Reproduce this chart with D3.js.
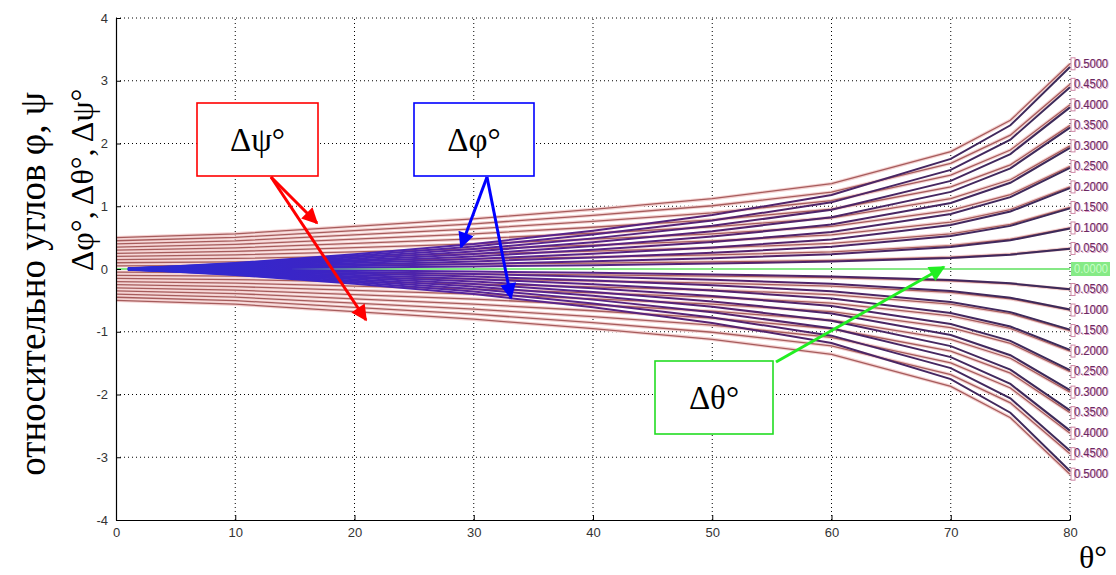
<!DOCTYPE html>
<html><head><meta charset="utf-8">
<script src="https://cdn.jsdelivr.net/npm/d3@7"></script>
<style>
html,body{margin:0;padding:0;background:#fff;}
svg{display:block;}
</style></head>
<body>
<svg id="chart" width="1116" height="575"></svg>
<script>
// ---- data ----
const xTicks = [0,10,20,30,40,50,60,70,80];
const yTicks = [-4,-3,-2,-1,0,1,2,3,4];
const kLabels = ["0.0500","0.1000","0.1500","0.2000","0.2500","0.3000","0.3500","0.4000","0.4500","0.5000"];
const zeroLabel = "0.0000";

// Δψ curves (upper half), theta in degrees
const thetaPsi = [0,10,20,30,40,50,60,70,75,80];
const psiUpper = [
  [0.05,0.056,0.068,0.08,0.095,0.112,0.136,0.187,0.237,0.327],
  [0.10,0.112,0.136,0.16,0.19,0.224,0.272,0.374,0.474,0.654],
  [0.15,0.168,0.204,0.24,0.285,0.336,0.408,0.561,0.711,0.981],
  [0.20,0.224,0.272,0.32,0.38,0.448,0.544,0.748,0.948,1.308],
  [0.25,0.28,0.34,0.40,0.475,0.56,0.68,0.935,1.185,1.635],
  [0.30,0.336,0.408,0.48,0.57,0.672,0.816,1.122,1.422,1.962],
  [0.35,0.392,0.476,0.56,0.665,0.784,0.952,1.309,1.659,2.289],
  [0.40,0.448,0.544,0.64,0.76,0.896,1.088,1.496,1.896,2.616],
  [0.45,0.504,0.612,0.72,0.855,1.008,1.224,1.683,2.133,2.943],
  [0.50,0.56,0.68,0.80,0.95,1.12,1.36,1.87,2.37,3.27]
];
// Δφ curves (upper half)
const thetaPhi = [1,5,10,20,30,40,50,60,70,75,80];
const phiUpper = [
  [0.001,0.005,0.01,0.024,0.04,0.061,0.086,0.118,0.176,0.229,0.322],
  [0.002,0.009,0.019,0.047,0.08,0.122,0.172,0.236,0.351,0.458,0.644],
  [0.003,0.014,0.029,0.071,0.12,0.183,0.258,0.354,0.527,0.687,0.966],
  [0.004,0.018,0.038,0.094,0.16,0.244,0.344,0.472,0.702,0.916,1.288],
  [0.005,0.023,0.048,0.118,0.20,0.305,0.43,0.59,0.878,1.145,1.61],
  [0.006,0.027,0.057,0.141,0.24,0.366,0.516,0.708,1.053,1.374,1.932],
  [0.007,0.032,0.067,0.165,0.28,0.427,0.602,0.826,1.229,1.603,2.254],
  [0.008,0.036,0.076,0.188,0.32,0.488,0.688,0.944,1.404,1.832,2.576],
  [0.009,0.041,0.086,0.212,0.36,0.549,0.774,1.062,1.58,2.061,2.898],
  [0.01,0.045,0.095,0.235,0.40,0.61,0.86,1.18,1.755,2.29,3.22]
];
// Δθ curve
const thetaTheta = [0,80];
const thetaVals = [0,0];

// ---- drawing ----
const svg = d3.select("#chart");
const x = d3.scaleLinear().domain([0,80]).range([116,1070]);
const y = d3.scaleLinear().domain([-4,4]).range([520,18]);

const defs = svg.append("defs");
const grad = defs.append("linearGradient").attr("id","phiGrad")
  .attr("gradientUnits","userSpaceOnUse")
  .attr("x1",x(0)).attr("x2",x(80)).attr("y1",0).attr("y2",0);
grad.append("stop").attr("offset","0%").attr("stop-color","#2a2ad8");
grad.append("stop").attr("offset","22%").attr("stop-color","#3c24c4");
grad.append("stop").attr("offset","38%").attr("stop-color","#5a2498");
grad.append("stop").attr("offset","65%").attr("stop-color","#55226e");
grad.append("stop").attr("offset","100%").attr("stop-color","#3a2a58");

function marker(id,color){
  defs.append("marker").attr("id",id)
    .attr("viewBox","0 0 10 10").attr("refX",9).attr("refY",5)
    .attr("markerUnits","userSpaceOnUse")
    .attr("markerWidth",20).attr("markerHeight",16)
    .attr("orient","auto")
    .append("path").attr("d","M0,0 L10,5 L0,10 Z").attr("fill",color);
}
marker("arrRed","#ff0000");
marker("arrBlue","#0000ff");
marker("arrGreen","#22ee22");

// grid
const grid = svg.append("g");
grid.selectAll(".gx").data(xTicks.filter(d=>d>0)).enter().append("line")
  .attr("x1",d=>x(d)).attr("x2",d=>x(d)).attr("y1",y(-4)).attr("y2",y(4))
  .attr("stroke","#000").attr("stroke-width",1).attr("stroke-dasharray","1,3");
grid.selectAll(".gy").data(yTicks.filter(d=>d>-4)).enter().append("line")
  .attr("x1",x(0)).attr("x2",x(80)).attr("y1",d=>y(d)).attr("y2",d=>y(d))
  .attr("stroke","#000").attr("stroke-width",1).attr("stroke-dasharray","1,3");

const signs = [1,-1];
const linePsi = d3.line().x((d,i)=>x(thetaPsi[i])).y(d=>y(d));
const linePhi = d3.line().x((d,i)=>x(thetaPhi[i])).y(d=>y(d));
const lineTh = d3.line().x((d,i)=>x(thetaTheta[i])).y(d=>y(d));

const psiSeries = [];
signs.forEach(s=>psiUpper.forEach(a=>psiSeries.push(a.map(v=>s*v))));
const phiSeries = [];
signs.forEach(s=>phiUpper.forEach(a=>phiSeries.push(a.map(v=>s*v))));

const dataG = svg.append("g");
// pink halo of Δψ
dataG.selectAll(".psiHalo").data(psiSeries).enter().append("path")
  .attr("d",linePsi).attr("fill","none").attr("stroke","#f4d2d2").attr("stroke-width",3.5);
dataG.selectAll(".psi").data(psiSeries).enter().append("path")
  .attr("d",linePsi).attr("fill","none").attr("stroke","#a65c5c").attr("stroke-width",1.3);
// Δθ
dataG.append("path").datum(thetaVals).attr("d",lineTh)
  .attr("fill","none").attr("stroke","#86e886").attr("stroke-width",2.2);
// Δφ
dataG.selectAll(".phi").data(phiSeries).enter().append("path")
  .attr("d",linePhi).attr("fill","none").attr("stroke","url(#phiGrad)").attr("stroke-width",2);

// axes
const fmt = d=>String(d);
const ax = svg.append("g");
const yAxis = ax.append("g").attr("transform",`translate(${x(0)},0)`)
  .call(d3.axisLeft(y).tickValues(yTicks).tickFormat(fmt).tickSizeInner(-5).tickSizeOuter(0).tickPadding(8));
const xAxis = ax.append("g").attr("transform",`translate(0,${y(-4)})`)
  .call(d3.axisBottom(x).tickValues(xTicks).tickFormat(fmt).tickSizeInner(-5).tickSizeOuter(0).tickPadding(8));
[yAxis,xAxis].forEach(g=>{
  g.selectAll("text").attr("font-size",13).attr("fill","#333").attr("font-family","Liberation Sans, Arial, sans-serif");
  g.select(".domain").attr("stroke","#000").attr("stroke-width",1.2);
  g.selectAll(".tick line").attr("stroke","#000");
});

// right-end labels
const lab = svg.append("g").attr("font-family","Liberation Sans Narrow, Arial Narrow, Liberation Sans, sans-serif")
  .attr("font-size",12);
signs.forEach(s=>{
  psiUpper.forEach((a,i)=>{
    const yy = y(s*a[a.length-1]);
    lab.append("rect").attr("x",x(80)+1).attr("y",yy-6).attr("width",4).attr("height",12)
      .attr("fill","none").attr("stroke","#d08aa8").attr("stroke-width",1);
    lab.append("text").attr("x",x(80)+5).attr("y",yy).attr("dy","0.35em")
      .attr("fill","#e0a0c8").attr("textLength",34).attr("lengthAdjust","spacingAndGlyphs").text(kLabels[i]);
    lab.append("text").attr("x",x(80)+4).attr("y",yy-0.5).attr("dy","0.35em")
      .attr("fill","#6a2860").attr("textLength",34).attr("lengthAdjust","spacingAndGlyphs").text(kLabels[i]);
  });
});
{
  const yy = y(thetaVals[1]);
  lab.append("rect").attr("x",x(80)+1).attr("y",yy-7).attr("width",39).attr("height",14).attr("fill","#86ea86");
  lab.append("text").attr("x",x(80)+4).attr("y",yy).attr("dy","0.35em")
    .attr("fill","#c8ffc8").attr("textLength",34).attr("lengthAdjust","spacingAndGlyphs").text(zeroLabel);
}

// annotation boxes
const ann = svg.append("g").attr("font-family","Liberation Serif, Times New Roman, serif");
function box(x0,y0,w,h,color,label){
  ann.append("rect").attr("x",x0).attr("y",y0).attr("width",w).attr("height",h)
    .attr("fill","#fff").attr("stroke",color).attr("stroke-width",1.6);
  ann.append("text").attr("x",x0+w/2).attr("y",y0+h/2).attr("dy","0.36em")
    .attr("text-anchor","middle").attr("font-size",33).attr("fill","#000").text(label);
}
function arrow(x1,y1,x2,y2,color,m){
  ann.append("line").attr("x1",x1).attr("y1",y1).attr("x2",x2).attr("y2",y2)
    .attr("stroke",color).attr("stroke-width",3).attr("marker-end",`url(#${m})`);
}
box(197,103,121,73,"#ff0000","Δψ°");
box(414,103,120,73,"#0000ff","Δφ°");
box(655,361,118,73,"#22dd22","Δθ°");
arrow(271,177,317,223,"#ff0000","arrRed");
arrow(271,177,366,320,"#ff0000","arrRed");
arrow(487,177,461,247,"#0000ff","arrBlue");
arrow(487,177,511,298,"#0000ff","arrBlue");
arrow(776,362,944,267,"#22ee22","arrGreen");

// axis titles
ann.append("text").attr("transform","translate(45,284) rotate(-90)")
  .attr("text-anchor","middle").attr("font-size",37).attr("fill","#000")
  .text("относительно углов  φ, ψ");
ann.append("text").attr("transform","translate(93,180) rotate(-90)")
  .attr("text-anchor","middle").attr("font-size",32).attr("fill","#000")
  .text("Δφ°, Δθ°, Δψ°");
ann.append("text").attr("x",1093).attr("y",568).attr("text-anchor","middle")
  .attr("font-size",32).attr("fill","#000").text("θ°");
</script>
</body></html>
